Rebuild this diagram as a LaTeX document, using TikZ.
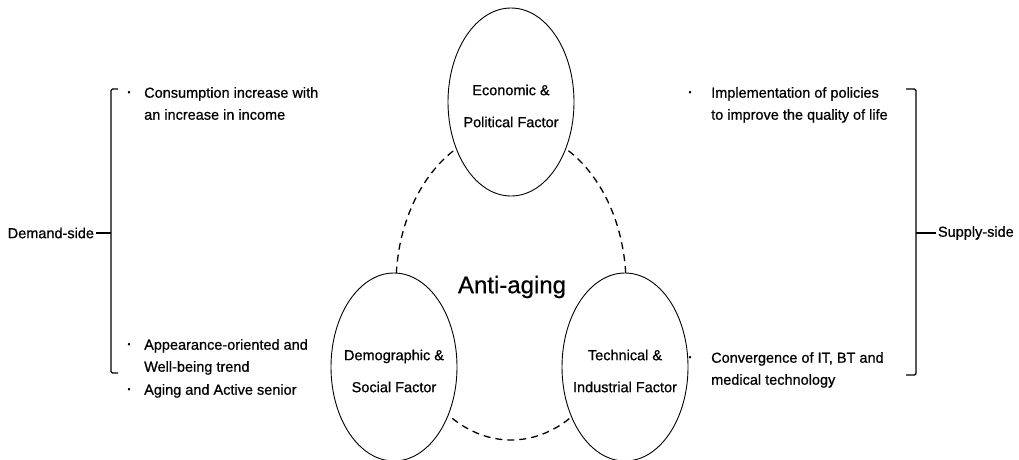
\documentclass[tikz,border=0pt]{standalone}
\usepackage{fontspec}
\setmainfont{Liberation Sans}[FakeBold=0.7]
\usetikzlibrary{shapes.geometric}
\tikzset{
  factor/.style={ellipse, draw, fill=white, line width=0.9pt, minimum width=126, minimum height=188, inner sep=0},
  ftext/.style={inner sep=0, align=center, font=\fontsize{14.5}{32}\selectfont},
  ring/.style={ellipse, draw, dash pattern=on 7pt off 5pt, line width=1.3pt, minimum width=230, minimum height=310, inner sep=0},
  item/.style={anchor=north west, inner sep=0, align=left, font=\fontsize{14.5}{22}\selectfont},
  bul/.style={inner sep=0, font=\fontsize{8}{8}\selectfont},
  side/.style={inner sep=0, outer sep=2pt, font=\fontsize{14.5}{17}\selectfont},
  brk/.style={line width=1.4pt, rounded corners=1.5pt},
}
\begin{document}
\begin{tikzpicture}[x=1pt,y=-1pt]
\useasboundingbox (0,0) rectangle (1019,459);
% dashed ring
\node[ring] (ring) at (511,285) {};
% factors
\node[factor] (eco) at (511,102) {};
\node[ftext] (ecot) at ([yshift=-4]eco.center) {Economic \&\\Political Factor};
\node[factor] (dem) at (394,367) {};
\node[ftext] (demt) at ([yshift=-4]dem.center) {Demographic \&\\Social Factor};
\node[factor] (tec) at (625,367) {};
\node[ftext] (tect) at ([yshift=-4]tec.center) {Technical \&\\Industrial Factor};
\node[inner sep=0, font=\fontsize{24}{28}\selectfont] (anti) at (512,287) {Anti-aging};
% left items
\node[bul] (lb1) at (129,93) {•};
\node[item] (l1) at (144,87) {Consumption increase with\\an increase in income};
\node[bul] (lb2) at (129,345) {•};
\node[item] (l2) at (144,339) {Appearance-oriented and\\Well-being trend};
\node[bul] (lb3) at (129,390) {•};
\node[item] (l3) at (144,384) {Aging and Active senior};
% right items
\node[bul] (rb1) at (690,93) {•};
\node[item] (r1) at (711,87) {Implementation of policies\\to improve the quality of life};
\node[bul] (rb2) at (690,358) {•};
\node[item] (r2) at (711,352) {Convergence of IT, BT and\\medical technology};
% side labels
\node[side, anchor=east] (dside) at (96,233) {Demand-side};
\node[side, anchor=west] (sside) at (936,233) {Supply-side};
% brackets
\coordinate (lt) at (118,89);
\coordinate (ltc) at (111,89);
\coordinate (lbc) at (111,373);
\coordinate (lbt) at (118,373);
\coordinate (lm) at (111,233);
\draw[brk] (lt) -- (ltc) -- (lbc) -- (lbt);
\draw[line width=1.4pt] (dside) -- (lm);
\coordinate (rt) at (906,89);
\coordinate (rtc) at (916,89);
\coordinate (rbc) at (916,375);
\coordinate (rbt) at (906,375);
\coordinate (rm) at (916,233);
\draw[brk] (rt) -- (rtc) -- (rbc) -- (rbt);
\draw[line width=1.4pt] (sside) -- (rm);
\end{tikzpicture}
\end{document}
